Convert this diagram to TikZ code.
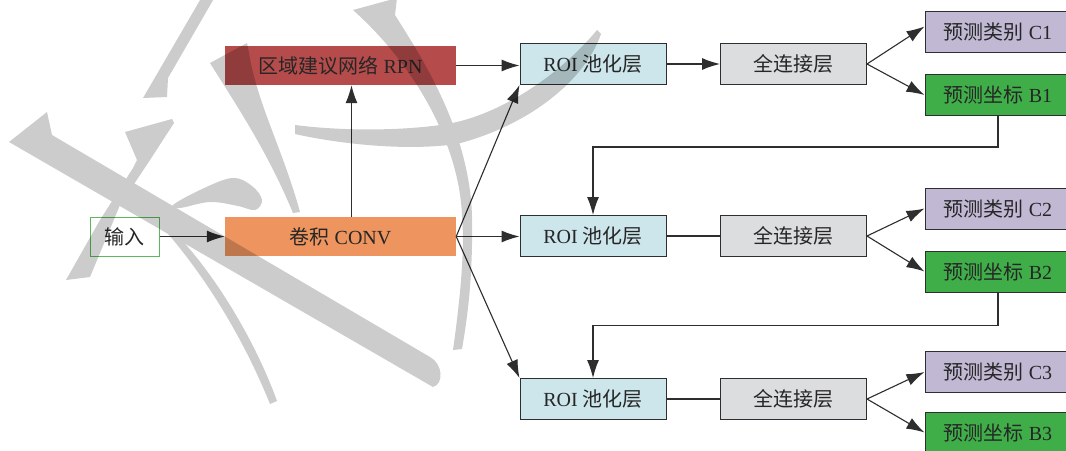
\documentclass[tikz,border=0pt]{standalone}
\usepackage{fontspec}
\setmainfont{Liberation Serif}
\newfontfamily\cjk{Noto Sans CJK SC}
\usetikzlibrary{arrows.meta,calc}
\definecolor{rpnc}{HTML}{B54B4B}
\definecolor{convc}{HTML}{EE955F}
\definecolor{roic}{HTML}{CDE6EB}
\definecolor{fcc}{HTML}{DCDDDF}
\definecolor{clsc}{HTML}{C1B8D4}
\definecolor{bbc}{HTML}{3FAE49}
\definecolor{inc}{HTML}{5DB85D}
\definecolor{linec}{HTML}{2E2E2E}
\definecolor{txt}{HTML}{262626}
\begin{document}
\begin{tikzpicture}[x=1pt,y=-1pt,
  base/.style={inner sep=0pt,font=\fontsize{20}{24}\selectfont,text=txt},
  box/.style={base,draw=linec,line width=1pt,minimum height=41pt,minimum width=146pt},
  flat/.style={base,minimum height=39pt,minimum width=231pt},
  roibox/.style={box,fill=roic},
  fcbox/.style={box,fill=fcc},
  clsbox/.style={box,fill=clsc},
  bbbox/.style={box,fill=bbc},
  arr/.style={-{Latex[length=18pt,width=12pt]},line width=1.1pt,draw=linec},
  ln/.style={line width=1.1pt,draw=linec},
  wm/.style={fill=black}]
\clip (0,0) rectangle (1066,450);
\fill[white] (0,0) rectangle (1066,450);

% nodes
\node[base,draw=inc,line width=1pt,fill=white,minimum width=69pt,minimum height=39pt] (in) at (124.5,236.5) {{\cjk 输入}};
\node[flat,fill=rpnc] (rpn) at (340.5,65.5) {{\cjk 区域建议网络} RPN};
\node[flat,fill=convc] (conv) at (340.5,236.5) {{\cjk 卷积} CONV};

\node[roibox] (roi1) at (593,64) {ROI {\cjk 池化层}};
\node[fcbox] (fc1) at (793.5,64) {{\cjk 全连接层}};
\node[clsbox] (c1) at (998,31.5) {{\cjk 预测类别} C1};
\node[bbbox] (b1) at (998,95) {{\cjk 预测坐标} B1};

\node[roibox] (roi2) at (593,236) {ROI {\cjk 池化层}};
\node[fcbox] (fc2) at (793.5,236) {{\cjk 全连接层}};
\node[clsbox] (c2) at (998,208.5) {{\cjk 预测类别} C2};
\node[bbbox] (b2) at (998,271.5) {{\cjk 预测坐标} B2};

\node[roibox] (roi3) at (593,399) {ROI {\cjk 池化层}};
\node[fcbox] (fc3) at (793.5,399) {{\cjk 全连接层}};
\node[clsbox] (c3) at (998,372) {{\cjk 预测类别} C3};
\node[bbbox] (b3) at (998,432.5) {{\cjk 预测坐标} B3};

% connectors
\draw[arr] (in.east) -- (conv.west);
\draw[arr] ([xshift=11pt]conv.north) -- ([xshift=11pt]rpn.south);
\draw[arr] (rpn.east) -- (rpn.east -| roi1.west);
\draw[arr] (conv.east) -- (roi1.south west);
\draw[arr] (conv.east) -- (conv.east -| roi2.west);
\draw[arr] (conv.east) -- (roi3.north west);
\draw[arr] (roi1.east) -- (fc1.west);
\draw[ln] (roi2.east) -- (fc2.west);
\draw[ln] (roi3.east) -- (fc3.west);
\draw[arr] (fc1.east) -- ([yshift=5pt]c1.west);
\draw[arr] (fc1.east) -- (b1.west);
\draw[arr] (fc2.east) -- (c2.west);
\draw[arr] (fc2.east) -- (b2.west);
\draw[arr] (fc3.east) -- (c3.west);
\draw[arr] (fc3.east) -- (b3.west);
\draw[arr] (b1.south) -- ++(0,31) -| (roi2.north);
\draw[arr] (b2.south) -- ++(0,33) -| (roi3.north);

% watermark
\begin{scope}[transparency group, opacity=0.2]
\fill[wm] (9,142) -- (47,112) -- (52,135) -- (430,357) .. controls (443,364) and (444,384) .. (433,387) -- cycle;
\fill[wm] (203,-5) -- (143,98) -- (167,97) -- (168,78) -- (216,-5) -- cycle;
\fill[wm] (125,132) -- (172,119) -- (174,123) -- (150,160) -- (120,205) -- (90,277) -- (66,280) -- (100,220) -- (133,168) -- (137,160) -- cycle;
\fill[wm] plot[smooth cycle, tension=0.6] coordinates {(173,205) (200,190) (232,178) (252,186) (262,200) (255,210) (238,206) (210,202) (180,208)};
\fill[wm] (163,228) .. controls (200,270) and (240,330) .. (270,404) -- (277,401) .. controls (255,340) and (215,275) .. (178,236) -- cycle;
\fill[wm] (210,63) -- (247,43) -- (249,53) .. controls (257,103) and (283,150) .. (300,212) -- (293,213) .. controls (267,150) and (233,100) .. (210,63) -- cycle;
\fill[wm] (295,125) .. controls (350,132) and (410,130) .. (447,124) .. controls (500,115) and (560,75) .. (597,30) -- (601,34) .. controls (585,80) and (530,125) .. (457,144) .. controls (400,152) and (330,142) .. (295,134) -- cycle;
\fill[wm] (353,10) -- (397,-2) -- (395,15) .. controls (420,55) and (470,130) .. (472,217) .. controls (473,280) and (467,320) .. (462,349) -- (453,350) .. controls (460,300) and (465,250) .. (462,217) .. controls (460,150) and (420,70) .. (353,10) -- cycle;
\end{scope}
\end{tikzpicture}
\end{document}
